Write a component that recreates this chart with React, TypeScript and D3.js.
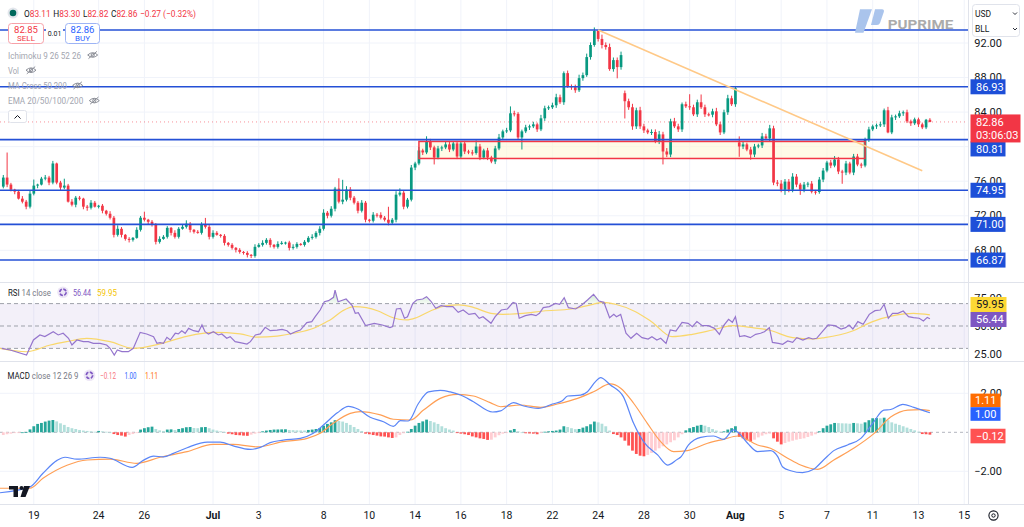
import React from 'react';
import * as d3 from 'd3';

// ---------- DATA ----------
const closes = [
  76.42, 75.61, 75.02, 74.79, 73.98, 73.63, 73.05, 74.56, 75.49, 75.61,
  76.30, 76.42, 75.84, 78.05, 75.84, 75.26, 75.49, 73.63, 73.28, 74.09,
  73.98, 73.05, 72.93, 73.51, 73.05, 73.16, 72.58, 72.23, 71.77, 69.79,
  70.49, 69.79, 69.32, 69.21, 69.44, 70.37, 71.77, 71.54, 71.30, 70.95,
  68.98, 69.32, 69.56, 70.60, 70.02, 69.56, 70.49, 70.72, 71.07, 70.37,
  70.14, 70.02, 70.95, 70.72, 69.56, 70.02, 69.79, 69.67, 68.86, 68.63,
  68.28, 68.05, 67.81, 67.70, 67.47, 67.35, 68.40, 68.63, 68.86, 69.21,
  68.63, 68.40, 68.74, 68.86, 68.90, 68.28, 68.40, 68.74, 68.63, 68.98,
  69.44, 69.56, 70.02, 70.49, 72.35, 72.00, 72.81, 75.14, 73.63, 73.86,
  75.02, 74.09, 73.51, 72.58, 73.51, 71.54, 71.42, 72.12, 72.10, 71.77,
  71.54, 71.19, 71.54, 74.44, 74.67, 73.05, 73.86, 77.58, 78.05, 79.56,
  79.33, 80.60, 79.91, 78.74, 79.79, 79.91, 80.26, 79.67, 80.37, 78.86,
  80.37, 79.44, 79.33, 79.27, 80.02, 78.74, 79.56, 78.74, 78.28, 79.79,
  81.07, 81.77, 81.88, 83.86, 83.80, 81.07, 81.77, 82.23, 82.35, 82.58,
  82.00, 83.28, 84.44, 84.56, 84.79, 85.72, 85.14, 88.51, 87.00, 86.88,
  86.53, 87.93, 88.28, 90.37, 91.77, 93.40, 92.47, 91.77, 91.53, 88.98,
  90.02, 89.21, 90.60, 85.26, 84.56, 82.35, 84.21, 82.35, 81.88, 81.65,
  81.70, 80.60, 81.42, 79.44, 79.09, 82.93, 82.35, 82.00, 84.91, 84.67,
  84.56, 83.74, 85.14, 84.56, 83.74, 83.70, 84.09, 82.58, 81.65, 83.98,
  85.60, 84.91, 86.77, 80.02, 80.26, 79.67, 79.09, 80.02, 80.14, 81.19,
  80.95, 82.12, 75.84, 75.72, 75.02, 75.95, 75.02, 76.53, 75.61, 75.02,
  75.61, 75.72, 74.79, 74.75, 76.19, 77.23, 78.16, 77.81, 78.51, 77.12,
  77.00, 78.05, 77.00, 78.86, 77.93, 77.81, 80.84, 82.00, 82.35, 82.47,
  82.58, 84.21, 81.65, 83.39, 83.51, 83.86, 83.98, 82.93, 82.70, 83.16,
  82.58, 82.23, 83.11, 82.86,
];
// opens that differ from the previous close (session gaps)
const gapOpens: Record<number, number> = { 0: 75.37, 163: 86.19, 193: 80.49 };
const wickUp = [
  0.3, 2.9, 0.2, 0.1, 0.2, 0.3, 0.2, 0.3, 0.7, 0.1,
  0.2, 0.3, 0.2, 0.3, 0.1, 0.2, 0.8, 0.2, 0.3, 0.2,
  0.2, 0.1, 0.2, 0.3, 0.2, 0.1, 0.2, 0.1, 0.3, 0.2,
  0.4, 0.2, 0.1, 0.2, 0.1, 0.3, 0.2, 0.7, 0.1, 0.2,
  0.2, 0.3, 0.2, 0.2, 0.1, 0.3, 0.2, 0.3, 0.4, 0.2,
  0.1, 0.2, 0.3, 0.8, 0.2, 0.3, 0.2, 0.1, 0.2, 0.1,
  0.2, 0.1, 0.2, 0.1, 0.2, 0.1, 0.3, 0.2, 0.3, 0.2,
  0.2, 0.1, 0.3, 0.2, 0.1, 0.2, 0.3, 0.2, 0.1, 0.2,
  0.2, 0.3, 0.2, 0.3, 0.4, 0.2, 0.3, 0.2, 1.2, 2.3,
  0.4, 0.3, 0.2, 0.2, 0.3, 0.2, 0.1, 0.3, 0.2, 0.3,
  0.2, 1.5, 0.2, 0.4, 0.5, 0.3, 0.2, 0.3, 0.2, 0.4,
  0.2, 0.6, 0.3, 0.2, 0.3, 0.2, 0.3, 0.4, 0.2, 0.2,
  0.2, 0.3, 0.2, 0.3, 0.7, 0.3, 0.2, 0.3, 0.2, 0.3,
  0.4, 0.2, 0.3, 0.8, 0.3, 0.2, 0.2, 0.3, 0.2, 0.3,
  0.2, 0.4, 0.3, 0.2, 0.3, 0.4, 0.3, 0.2, 0.3, 0.2,
  0.3, 0.4, 0.3, 0.4, 0.3, 0.4, 0.1, 0.5, 0.3, 0.4,
  0.3, 0.3, 0.4, 0.3, 0.3, 0.4, 0.3, 0.4, 0.3, 0.2,
  0.3, 0.3, 0.4, 0.3, 0.4, 0.3, 0.4, 0.3, 0.2, 0.3,
  1.4, 0.3, 0.3, 0.9, 0.3, 0.2, 0.3, 0.4, 0.3, 0.3,
  0.4, 0.3, 0.2, 0.7, 0.3, 0.2, 0.3, 0.3, 0.2, 0.4,
  0.3, 0.4, 0.3, 0.3, 0.4, 0.3, 0.3, 0.4, 0.3, 0.2,
  0.3, 0.2, 0.3, 0.2, 0.3, 0.3, 0.2, 0.3, 0.4, 0.3,
  0.2, 0.3, 0.2, 0.3, 0.3, 0.2, 0.2, 0.3, 0.2, 0.2,
  0.3, 0.2, 0.4, 0.3, 0.2, 0.3, 0.2, 0.3, 0.2, 0.2,
  0.2, 0.2, 0.1, 0.19,
];
const wickDown = [
  0.2, 0.3, 0.2, 0.3, 0.1, 0.2, 0.3, 0.2, 0.2, 0.3,
  0.1, 0.2, 0.3, 0.2, 0.2, 0.3, 0.2, 0.1, 0.2, 0.3,
  0.2, 0.3, 0.35, 0.2, 0.1, 0.2, 0.3, 0.2, 0.2, 0.3,
  0.2, 0.3, 0.2, 0.3, 0.2, 0.1, 0.2, 0.2, 0.3, 0.2,
  0.3, 0.2, 0.1, 0.2, 0.3, 0.2, 0.2, 0.1, 0.2, 0.3,
  0.2, 0.1, 0.2, 0.2, 0.3, 0.2, 0.1, 0.2, 0.3, 0.2,
  0.2, 0.3, 0.2, 0.2, 0.3, 0.25, 0.2, 0.1, 0.2, 0.2,
  0.3, 0.2, 0.2, 0.1, 0.2, 0.3, 0.2, 0.2, 0.1, 0.2,
  0.1, 0.2, 0.2, 0.3, 0.2, 0.3, 0.2, 0.3, 0.2, 0.3,
  0.2, 0.3, 0.2, 0.3, 0.2, 0.3, 0.2, 0.2, 0.3, 0.2,
  0.2, 0.3, 0.2, 0.3, 0.2, 0.3, 0.2, 0.2, 0.3, 0.2,
  0.3, 0.2, 0.3, 0.8, 0.2, 0.3, 0.2, 0.3, 0.2, 0.3,
  0.2, 0.3, 0.2, 0.3, 0.2, 0.3, 0.2, 0.3, 0.2, 0.3,
  0.2, 0.3, 0.2, 0.2, 0.3, 0.2, 1.4, 0.2, 0.3, 0.2,
  0.3, 0.2, 0.3, 0.2, 0.2, 0.3, 0.2, 0.3, 0.2, 0.3,
  0.3, 0.2, 0.3, 0.2, 0.3, 0.2, 0.3, 0.4, 0.3, 0.2,
  0.3, 1.3, 0.3, 2.0, 0.3, 0.4, 0.3, 0.3, 0.3, 0.2,
  0.3, 0.2, 0.3, 1.5, 0.3, 0.3, 0.2, 0.3, 0.3, 0.2,
  0.3, 0.2, 0.3, 0.2, 0.3, 0.2, 0.3, 0.2, 0.3, 0.2,
  0.3, 0.2, 0.3, 1.2, 0.3, 0.2, 0.6, 0.3, 0.2, 0.3,
  0.2, 0.3, 0.3, 0.3, 0.3, 0.6, 0.3, 0.3, 0.3, 0.6,
  0.3, 0.3, 0.2, 0.3, 0.2, 0.3, 0.2, 0.3, 0.2, 0.3,
  1.3, 0.3, 0.2, 0.3, 0.2, 0.3, 0.2, 0.3, 0.2, 0.3,
  0.2, 0.3, 0.1, 0.2, 0.3, 0.2, 0.3, 0.2, 0.3, 0.2,
  0.3, 0.2, 0.2, 0.04,
];

const levels = [93.5, 86.93, 80.81, 74.95, 71.0, 66.87];
const labeledLevels = [86.93, 80.81, 74.95, 71.0, 66.87];
const priceTicks = [92, 88, 84, 80, 76, 72, 68];
const zoneIdx = [109, 226];
const zonePrice = [78.63, 80.6];
const trendLine: [number, number][] = [[156, 93.5], [241, 77.2]];

const dateLabels = ['19', '24', '26', 'Jul', '3', '8', '10', '14', '16', '18', '22', '24', '28', '30', 'Aug', '5', '7', '11', '13', '15'];
const dateIdx = [8, 25, 37, 55, 67, 84, 96, 108, 120, 132, 144, 156, 168, 180, 192, 204, 216, 228, 240, 252];

const headerOHLC = { o: '83.11', h: '83.30', l: '82.82', c: '82.86', chg: '−0.27 (−0.32%)' };
const bidAsk = { sell: '82.85', buy: '82.86', spread: '0.01' };
const countdown = '03:06:03';

const rsiTicks = [75, 50, 25];
const rsiBands = [70, 50, 30];
const rsiPts: [number, number][] = [[-0.4,30.1],[1.8,28.6],[6.1,24.1],[7.9,37.5],[9.6,42.0],[10.9,40.5],[13.1,44.9],[14.4,42.0],[15.7,43.5],[17.1,39.0],[18.0,33.0],[19.3,37.5],[21.0,36.0],[22.3,36.0],[23.6,34.5],[25.4,34.5],[27.1,33.0],[28.0,30.1],[29.1,24.1],[29.9,28.6],[31.1,27.1],[32.8,27.1],[34.1,30.1],[35.9,44.3],[37.6,42.9],[39.4,40.5],[40.3,34.5],[41.1,35.1],[42.0,34.5],[42.9,39.9],[43.8,37.5],[45.1,43.5],[45.9,42.9],[46.8,45.8],[47.7,43.5],[48.6,47.9],[49.9,45.8],[51.2,44.9],[52.1,50.9],[52.9,44.9],[53.8,42.9],[55.1,44.9],[56.4,42.0],[57.3,42.9],[58.6,39.0],[59.5,40.5],[60.8,36.0],[62.1,35.1],[63.9,33.9],[64.8,36.0],[66.1,42.0],[67.4,42.9],[68.7,48.8],[70.0,45.8],[71.8,46.4],[73.1,47.0],[74.4,45.8],[75.3,42.9],[76.6,44.9],[77.9,46.4],[79.6,53.0],[80.9,53.9],[81.8,58.3],[83.1,64.3],[84.2,71.7],[85.3,72.6],[86.6,75.6],[87.0,82.1],[87.8,71.7],[89.9,74.1],[91.5,68.2],[92.3,61.3],[93.1,61.9],[95.0,50.3],[97.3,52.4],[99.4,50.9],[101.4,48.5],[102.1,49.4],[103.1,65.2],[104.2,65.8],[105.2,56.9],[106.0,58.3],[107.4,70.2],[108.4,73.2],[110.0,74.1],[111.0,76.2],[112.1,72.3],[113.4,65.8],[114.8,68.2],[116.3,67.3],[117.9,67.3],[119.3,62.2],[120.6,64.3],[122.1,60.4],[123.7,61.3],[124.8,56.9],[125.8,58.3],[127.9,52.4],[129.0,58.3],[130.6,64.3],[132.2,65.2],[133.7,71.1],[134.5,70.2],[135.3,56.9],[136.9,59.2],[138.5,60.4],[139.7,59.2],[140.6,61.3],[141.6,66.4],[143.2,67.3],[144.8,70.2],[145.9,69.4],[147.1,75.3],[148.2,66.4],[150.1,65.2],[151.7,68.8],[153.2,73.2],[154.8,78.3],[156.2,72.3],[157.5,71.1],[159.0,57.4],[160.1,60.4],[160.8,58.3],[161.9,60.4],[163.3,43.5],[164.6,39.0],[166.1,43.5],[167.5,39.6],[169.1,38.4],[170.1,40.5],[171.4,37.5],[172.4,39.0],[173.8,34.5],[174.9,46.4],[176.4,45.5],[178.0,53.3],[179.6,52.4],[180.7,49.4],[181.9,53.9],[183.3,50.3],[184.9,50.3],[186.5,47.9],[187.8,42.6],[188.9,50.3],[190.2,56.0],[191.2,53.3],[192.0,58.3],[193.1,40.5],[194.4,41.4],[195.9,39.6],[197.3,42.6],[198.6,43.5],[199.6,44.9],[200.9,48.5],[201.7,35.4],[203.3,34.5],[204.4,33.6],[205.7,36.6],[207.0,35.4],[208.1,39.6],[209.7,37.5],[211.2,39.6],[212.3,38.4],[213.3,39.0],[214.9,45.5],[216.3,50.9],[218.1,50.3],[219.7,47.3],[220.9,48.5],[221.8,50.9],[222.8,47.3],[224.1,53.9],[225.5,51.5],[227.1,60.4],[228.6,63.7],[230.0,64.3],[231.0,69.4],[232.1,56.9],[233.2,61.3],[234.6,61.3],[236.0,63.4],[237.4,58.3],[238.7,57.4],[240.2,56.9],[241.3,54.5],[242.3,57.7],[243.0,56.44]];
const rsiMaPts: [number, number][] = [[-0.9,30],[6.1,27],[12.3,33],[16.6,36],[21.9,39],[28.0,36],[34.1,30],[41.1,34],[48.1,40.8],[55.1,44.3],[62.1,43],[66.5,40],[71.8,41],[76.1,43.5],[81.4,48],[84.9,54],[85.7,55.4],[88.9,63.4],[92.0,67.3],[95.2,66.4],[98.3,63.4],[101.5,58.3],[105.7,55.4],[108.3,57.4],[112.0,63.4],[116.3,68.2],[119.5,68.8],[122.6,67.3],[127.9,61.3],[131.1,60.4],[136.3,61.3],[141.6,63.4],[149.0,65.2],[153.2,68.2],[157.4,71.1],[160.5,69.4],[165.8,62.8],[170.0,53.9],[175.4,40.5],[180.7,42.6],[186.0,46.4],[191.2,50.3],[196.5,48.5],[200.7,46.4],[207.0,39.6],[212.3,38.4],[215.4,39.6],[222.7,45.5],[228.0,53.9],[233.4,59.2],[238.7,61.3],[243.0,59.95]];

const macdTicks = [2, -2];
const macdPts: [number, number][] = [[-0.9,-3.1],[7,-2.8],[10.4,-2.1],[14.1,-1.44],[16.2,-1.28],[19.3,-1.38],[25.4,-1.28],[28,-1.33],[33.8,-1.8],[36.7,-1.44],[39.4,-1.22],[42,-1.26],[44.6,-1.08],[48.2,-0.79],[53.5,-0.5],[56.9,-0.5],[60.3,-0.7],[64.8,-0.88],[67.4,-0.77],[70,-0.53],[73.4,-0.4],[77.9,-0.31],[81.3,-0.05],[84.4,0.45],[87.6,1.0],[90.5,1.33],[93.1,1.18],[96.2,0.77],[99.7,0.54],[102.3,0.3],[104.1,0.6],[106.2,0.58],[108.9,1.49],[111.5,2.07],[114.6,2.15],[117.2,2.07],[119.9,1.91],[123.3,1.57],[128.3,1.04],[130.4,1.1],[133.8,1.52],[136.5,1.35],[140.3,1.23],[144,1.45],[146.6,1.62],[148,1.86],[151.4,1.91],[153.2,2.08],[155.3,2.6],[156.6,2.8],[159.2,2.43],[162.6,1.83],[165.3,0.46],[167.9,-0.48],[171.6,-1.16],[174.2,-1.68],[176.8,-1.38],[177.6,-1.28],[179.7,-0.65],[182.9,-0.26],[186.3,-0.19],[188.9,-0.36],[191.5,0.12],[192.8,-0.02],[195.2,-0.56],[197.8,-0.99],[201.2,-0.94],[203.1,-1.25],[204.4,-1.78],[206.5,-1.97],[209.6,-2.07],[212.5,-1.9],[215.1,-1.42],[217.8,-0.94],[221.4,-0.65],[224.9,-0.31],[228,0.46],[230.9,1.14],[232.7,1.17],[235.9,1.43],[238.8,1.28],[243,1.0]];
const signalPts: [number, number][] = [[-0.9,-2.87],[7,-2.87],[10.4,-2.36],[16.7,-1.69],[22,-1.42],[28,-1.38],[35,-1.59],[41.1,-1.28],[48.2,-0.99],[55,-0.62],[60.3,-0.62],[66.6,-0.75],[73.4,-0.48],[79.7,-0.31],[83.1,-0.05],[86.5,0.46],[91,0.97],[93.6,1.06],[98.9,0.89],[102.3,0.67],[106.8,0.63],[110.2,1.14],[114.6,1.74],[119.1,1.95],[123.3,1.86],[127.7,1.52],[130.4,1.31],[135.6,1.4],[140.9,1.28],[145.3,1.45],[150.6,1.74],[154.8,2.08],[159.2,2.48],[161.9,2.26],[165.3,1.49],[168.9,0.46],[172.4,-0.48],[175.8,-0.99],[179.4,-0.94],[184.7,-0.56],[188.9,-0.36],[192.6,-0.19],[197.8,-0.65],[201.2,-0.82],[205.7,-1.33],[209.1,-1.68],[213.6,-1.9],[217.8,-1.42],[223,-0.82],[228.3,-0.07],[232.7,0.78],[237.2,1.14],[240.6,1.16],[243,1.11]];
const hist = [
  -0.14,-0.10,-0.07,-0.03,-0.02,0,0.02,0.15,0.31,0.43,
  0.48,0.55,0.60,0.63,0.56,0.46,0.38,0.27,0.21,0.17,
  0.12,0.09,0.07,0.05,0.03,0.07,0.05,0.03,0.00,-0.09,
  -0.14,-0.17,-0.22,-0.14,-0.09,-0.03,0.14,0.21,0.26,0.29,
  0.17,0.10,0.07,0.14,0.15,0.12,0.17,0.21,0.26,0.27,
  0.22,0.21,0.26,0.27,0.21,0.14,0.09,0.05,0.02,-0.07,
  -0.10,-0.14,-0.15,-0.17,-0.18,-0.12,-0.07,-0.02,0.05,0.09,
  0.12,0.14,0.145,0.15,0.155,0.12,0.11,0.10,0.095,0.09,
  0.12,0.14,0.17,0.22,0.34,0.43,0.51,0.62,0.58,0.55,
  0.48,0.38,0.27,0.17,0.07,-0.07,-0.10,-0.14,-0.17,-0.21,
  -0.22,-0.26,-0.29,-0.26,-0.14,-0.05,0.03,0.17,0.34,0.48,
  0.56,0.65,0.58,0.51,0.43,0.31,0.21,0.14,0.09,-0.03,
  -0.07,-0.10,-0.14,-0.21,-0.26,-0.31,-0.34,-0.39,-0.38,-0.26,
  -0.15,-0.07,-0.02,0.10,0.17,0.05,0.00,-0.05,-0.06,-0.07,
  -0.10,-0.03,0.03,0.05,0.07,0.09,0.14,0.31,0.27,0.21,
  0.16,0.17,0.24,0.31,0.41,0.55,0.51,0.44,0.31,0.09,
  -0.09,-0.14,-0.26,-0.43,-0.68,-0.94,-1.11,-1.20,-1.23,-1.16,
  -1.06,-0.94,-0.82,-0.72,-0.62,-0.51,-0.41,-0.26,-0.10,0.10,
  0.21,0.27,0.34,0.38,0.34,0.27,0.17,0.09,0.03,0.05,
  0.14,0.21,0.31,-0.24,-0.31,-0.41,-0.48,-0.38,-0.26,-0.17,
  -0.10,-0.07,-0.31,-0.48,-0.62,-0.55,-0.48,-0.43,-0.38,-0.34,
  -0.31,-0.24,-0.17,-0.10,0.05,0.21,0.34,0.41,0.48,0.47,
  0.46,0.455,0.44,0.48,0.46,0.44,0.51,0.62,0.72,0.73,
  0.72,0.75,0.62,0.51,0.44,0.38,0.31,0.24,0.17,0.10,
  0.03,-0.09,-0.10,-0.12,
];

const legendItems = ['Ichimoku 9 26 52 26', 'Vol', 'MA Cross 50 200', 'EMA 20/50/100/200'];

// ---------- STYLE ----------
const FONT = "Roboto, 'Noto Sans', 'DejaVu Sans', sans-serif";
const UP = '#089981';
const DOWN = '#f23645';
const BLUE = '#2450d6';
const BLUE_BOX = '#1d4fd8';
const GRID = '#f0f3fa';
const TXT = '#131722';
const AXIS_X = 968;
// text widths measured on the reference (layout)
const legendWidths = [73, 11, 58.7, 75.3];
const legendEyeX = [92.7, 31, 77.7, 94.3];

const fmt = (v: number) => v.toFixed(2).replace('-', '−');

function EyeOff({ x, y }: { x: number; y: number }) {
  return (
    <g transform={`translate(${x},${y})`} stroke="#8a8d96" fill="none" strokeWidth={1}>
      <path d="M-5,0 Q0,-4.6 5,0 Q0,4.6 -5,0 Z" />
      <circle r={1.6} />
      <line x1={-4.2} y1={3.6} x2={4.2} y2={-3.6} />
    </g>
  );
}

function LoadIcon({ x, y }: { x: number; y: number }) {
  return (
    <g transform={`translate(${x},${y})`}>
      <circle r={5.8} fill="#ede7f6" />
      <circle r={3.2} fill="none" stroke="#7e57c2" strokeWidth={1.7} strokeDasharray="3.5 1.5" />
    </g>
  );
}

export default function App() {
  const W = 1024, H = 527;
  const n = closes.length;
  const x = d3.scaleLinear().domain([0, n - 1]).range([3.3, 929.9]);
  const yP = d3.scaleLinear().domain([68, 92]).range([250.3, 43]);
  const yR = d3.scaleLinear().domain([25, 75]).range([354, 298]);
  const yM = d3.scaleLinear().domain([-2, 2]).range([471.3, 393.3]);

  const candles = closes.map((c, i) => {
    const o = gapOpens[i] !== undefined ? gapOpens[i] : i > 0 ? closes[i - 1] : c;
    const hi = Math.max(o, c) + wickUp[i];
    const lo = Math.min(o, c) - wickDown[i];
    return { i, o, c, hi, lo };
  });
  const last = closes[n - 1];

  const rsiLine = d3.line<[number, number]>().x(d => x(d[0])).y(d => yR(d[1]));
  const maLine = d3.line<[number, number]>().x(d => x(d[0])).y(d => yR(d[1])).curve(d3.curveMonotoneX);
  const obArea = d3.area<[number, number]>().x(d => x(d[0])).y0(yR(70)).y1(d => yR(Math.max(70, d[1])));
  const mLine = d3.line<[number, number]>().x(d => x(d[0])).y(d => yM(d[1])).curve(d3.curveMonotoneX);

  const yLast = yP(last);
  const curTop = yLast - 7.5;
  const curBottom = curTop + 28;

  const levelLabelY = (v: number) => {
    const y = yP(v);
    if (y > curTop - 8 && y < curBottom + 7.5) return curBottom + 6.5;
    return y;
  };
  const labelCenters = labeledLevels.map(levelLabelY);
  // tick labels fully hidden behind a level label are not drawn (as in the reference)
  const visibleTicks = priceTicks.filter(t => labelCenters.every(c => Math.abs(yP(t) - c) > 4));

  const rsiLast = rsiPts[rsiPts.length - 1][1];
  const maLast = rsiMaPts[rsiMaPts.length - 1][1];
  const macdLast = macdPts[macdPts.length - 1][1];
  const sigLast = signalPts[signalPts.length - 1][1];
  const histLast = hist[hist.length - 1];

  const rsiBoxY = yR(rsiLast) + 0.7;
  const maBoxY = rsiBoxY - 15;
  const macdBoxY = yM(macdLast) + 1.2;
  const sigBoxY = macdBoxY - 13.6;
  const histBoxY = yM(histLast) + 1.4;

  const histColor = (i: number) => {
    const h = hist[i];
    const p = i > 0 ? hist[i - 1] : h;
    if (h >= 0) return h > p ? '#26a69a' : '#b2dfdb';
    return h < p ? '#ff5252' : '#ffcdd2';
  };

  const LS = 'spacingAndGlyphs';

  return (
    <svg width={W} height={H} viewBox={`0 0 ${W} ${H}`}
      style={{ position: 'absolute', left: 0, top: 0, background: '#fff', display: 'block' }}
      fontFamily={FONT}>
      <defs>
        <clipPath id="cMain"><rect x={0} y={0} width={AXIS_X} height={282} /></clipPath>
        <clipPath id="cRsi"><rect x={0} y={283} width={AXIS_X} height={78} /></clipPath>
        <clipPath id="cMacd"><rect x={0} y={362} width={AXIS_X} height={142} /></clipPath>
        <linearGradient id="obGrad" x1="0" y1="0" x2="0" y2="1">
          <stop offset="0" stopColor="#4caf50" stopOpacity={0.35} />
          <stop offset="1" stopColor="#4caf50" stopOpacity={0.05} />
        </linearGradient>
      </defs>
      <rect x={0} y={0} width={W} height={H} fill="#fff" />

      {/* vertical grid */}
      {dateIdx.map((d, k) => (
        x(d) < AXIS_X ? <line key={'vg' + k} x1={x(d)} x2={x(d)} y1={0} y2={504} stroke={GRID} strokeWidth={1} /> : null
      ))}
      {priceTicks.map(t => (
        <line key={'hg' + t} x1={0} x2={AXIS_X} y1={yP(t)} y2={yP(t)} stroke={GRID} strokeWidth={1} />
      ))}
      {macdTicks.map(t => (
        <line key={'mg' + t} x1={0} x2={AXIS_X} y1={yM(t)} y2={yM(t)} stroke={GRID} strokeWidth={1} />
      ))}

      {/* panel separators */}
      <line x1={0} x2={W} y1={282.5} y2={282.5} stroke="#e0e3eb" />
      <line x1={0} x2={W} y1={361.5} y2={361.5} stroke="#e0e3eb" />
      <line x1={0} x2={W} y1={504.5} y2={504.5} stroke="#e0e3eb" />
      <line x1={AXIS_X + 0.5} x2={AXIS_X + 0.5} y1={0} y2={504} stroke="#e0e3eb" />

      {/* ---------- MAIN PANEL ---------- */}
      <g clipPath="url(#cMain)">
        <rect x={x(zoneIdx[0])} y={yP(zonePrice[1])} width={x(zoneIdx[1]) - x(zoneIdx[0])}
          height={yP(zonePrice[0]) - yP(zonePrice[1])} fill="#fff6d6" fillOpacity={0.6} />
        <line x1={0} x2={AXIS_X} y1={yLast} y2={yLast} stroke={DOWN} strokeOpacity={0.55} strokeDasharray="1 3" />
        {candles.map(d => {
          const col = d.c >= d.o ? UP : DOWN;
          const cx = x(d.i);
          const yTop = yP(Math.max(d.o, d.c));
          const yBot = yP(Math.min(d.o, d.c));
          return (
            <g key={'c' + d.i}>
              <line x1={cx} x2={cx} y1={yP(d.hi)} y2={yP(d.lo)} stroke={col} strokeWidth={1} />
              <rect x={cx - 1.35} y={yTop} width={2.7} height={Math.max(1, yBot - yTop)} fill={col} />
            </g>
          );
        })}
        <rect x={x(zoneIdx[0])} y={yP(zonePrice[1])} width={x(zoneIdx[1]) - x(zoneIdx[0])}
          height={yP(zonePrice[0]) - yP(zonePrice[1])} fill="none" stroke="#f23645" strokeWidth={1.5} />
        {levels.map(v => (
          <line key={'lv' + v} x1={0} x2={AXIS_X} y1={yP(v)} y2={yP(v)} stroke={BLUE} strokeWidth={1.6} />
        ))}
        <line x1={x(trendLine[0][0])} y1={yP(trendLine[0][1])} x2={x(trendLine[1][0])} y2={yP(trendLine[1][1])}
          stroke="#ffc987" strokeWidth={1.6} />
      </g>

      {/* logo */}
      <g>
        <path d="M860,9.3 L872,9.3 L863.5,32.7 L855,32.7 Z" fill="#aac4ec" />
        <path d="M875,9.3 L882,9.3 Q884.5,9.3 883.8,12 L880,23 Q879.2,25 877,25 L871,25 Z" fill="#aac4ec" />
        <text x={887.7} y={29.3} fontSize={12} fontWeight={700} fill="#ababab" textLength={65.6} lengthAdjust={LS}>PUPRIME</text>
      </g>

      {/* header */}
      <circle cx={13} cy={13} r={5.5} fill="#e3e6ec" />
      <circle cx={13} cy={13} r={3.3} fill="#00695c" />
      <text x={24} y={16.5} fontSize={9.5} textLength={172} lengthAdjust={LS}>
        <tspan fill={TXT}>O</tspan><tspan fill={DOWN}>{headerOHLC.o}</tspan>
        <tspan fill={TXT} dx={3}>H</tspan><tspan fill={DOWN}>{headerOHLC.h}</tspan>
        <tspan fill={TXT} dx={3}>L</tspan><tspan fill={DOWN}>{headerOHLC.l}</tspan>
        <tspan fill={TXT} dx={3}>C</tspan><tspan fill={DOWN}>{headerOHLC.c}</tspan>
        <tspan fill={DOWN} dx={3}>{headerOHLC.chg}</tspan>
      </text>
      {/* sell / buy */}
      <rect x={8.5} y={23.5} width={35} height={20} rx={3} fill="#fff" stroke="#f7a1a8" />
      <text x={26} y={32.5} fontSize={9.5} fill={DOWN} textAnchor="middle">{bidAsk.sell}</text>
      <text x={26} y={41.3} fontSize={8} fill={DOWN} textAnchor="middle">SELL</text>
      <rect x={46} y={28} width={17} height={10} fill="#fff" />
      <text x={54.5} y={35.5} fontSize={7} fill={TXT} textAnchor="middle">{bidAsk.spread}</text>
      <rect x={65.5} y={23.5} width={34} height={20} rx={3} fill="#fff" stroke="#9db4f5" />
      <text x={82.5} y={32.5} fontSize={9.5} fill="#2962ff" textAnchor="middle">{bidAsk.buy}</text>
      <text x={82.5} y={41.3} fontSize={8} fill="#2962ff" textAnchor="middle">BUY</text>

      {/* indicator legends */}
      {legendItems.map((t, k) => {
        const y = 58.5 + k * 15.2;
        return (
          <g key={'lg' + k}>
            <text x={8} y={y} fontSize={9} fill="#a3a6af" textLength={legendWidths[k]} lengthAdjust={LS}>{t}</text>
            <EyeOff x={legendEyeX[k]} y={y - 3.5} />
          </g>
        );
      })}
      <rect x={8.5} y={110.5} width={18} height={12} rx={2} fill="#fff" stroke="#e0e3eb" />
      <path d="M14.5,118.5 L17.5,115.5 L20.5,118.5" fill="none" stroke={TXT} strokeWidth={1} />

      {/* ---------- RSI PANEL ---------- */}
      <rect x={0} y={yR(70)} width={AXIS_X} height={yR(30) - yR(70)} fill="#7e57c2" fillOpacity={0.09} />
      {rsiBands.map(b => (
        <line key={'rb' + b} x1={0} x2={AXIS_X} y1={yR(b)} y2={yR(b)} stroke="#9598a1" strokeDasharray="4 3" strokeOpacity={0.9} />
      ))}
      <g clipPath="url(#cRsi)">
        <path d={obArea(rsiPts) || ''} fill="url(#obGrad)" />
        <path d={maLine(rsiMaPts) || ''} fill="none" stroke="#f9d76b" strokeWidth={1.2} />
        <path d={rsiLine(rsiPts) || ''} fill="none" stroke="#9575cd" strokeWidth={1.2} />
      </g>
      <text x={8} y={295.5} fontSize={9} textLength={43} lengthAdjust={LS}>
        <tspan fill={TXT}>RSI</tspan><tspan fill="#787b86"> 14 close</tspan>
      </text>
      <LoadIcon x={63} y={292.3} />
      <text x={73} y={295.5} fontSize={9} fill="#7e57c2" textLength={18} lengthAdjust={LS}>{fmt(rsiLast)}</text>
      <text x={97} y={295.5} fontSize={9} fill="#f5c400" textLength={20} lengthAdjust={LS}>{fmt(maLast)}</text>

      {/* ---------- MACD PANEL ---------- */}
      <line x1={0} x2={AXIS_X} y1={yM(0)} y2={yM(0)} stroke="#b2b5be" strokeDasharray="3 3" />
      <g clipPath="url(#cMacd)">
        {hist.map((h, i) => (
          <rect key={'h' + i} x={x(i) - 1.4} width={2.8}
            y={Math.min(yM(0), yM(h))} height={Math.max(0.8, Math.abs(yM(h) - yM(0)))} fill={histColor(i)} />
        ))}
        <path d={mLine(signalPts) || ''} fill="none" stroke="#ff9f55" strokeWidth={1.2} />
        <path d={mLine(macdPts) || ''} fill="none" stroke="#5b86f7" strokeWidth={1.2} />
      </g>
      <text x={7.5} y={378.5} fontSize={9} textLength={71} lengthAdjust={LS}>
        <tspan fill={TXT}>MACD</tspan><tspan fill="#787b86"> close 12 26 9</tspan>
      </text>
      <LoadIcon x={89.5} y={375.3} />
      <text x={100} y={378.5} fontSize={9} fill="#f7777f" textLength={16} lengthAdjust={LS}>{fmt(histLast)}</text>
      <text x={124.5} y={378.5} fontSize={9} fill="#2962ff" textLength={12} lengthAdjust={LS}>{fmt(macdLast)}</text>
      <text x={145} y={378.5} fontSize={9} fill="#ff6d00" textLength={13} lengthAdjust={LS}>{fmt(sigLast)}</text>

      {/* TV logo */}
      <g fill="#131722">
        <rect x={9} y={486} width={9} height={3.5} />
        <rect x={13.5} y={486} width={4.5} height={11} />
        <circle cx={21.5} cy={488} r={2} />
        <path d="M24,486 L30,486 L25.5,497 L20.5,497 Z" />
      </g>

      {/* ---------- RIGHT AXIS ---------- */}
      {visibleTicks.map(t => (
        <text key={'pt' + t} x={1002} y={yP(t)} fontSize={11} fill={TXT} textAnchor="end" dominantBaseline="central">{fmt(t)}</text>
      ))}
      {rsiTicks.map(t => (
        <text key={'rt' + t} x={1002} y={yR(t)} fontSize={11} fill={TXT} textAnchor="end" dominantBaseline="central">{fmt(t)}</text>
      ))}
      {macdTicks.map(t => (
        <text key={'mt' + t} x={1002} y={yM(t)} fontSize={11} fill={TXT} textAnchor="end" dominantBaseline="central">{fmt(t)}</text>
      ))}

      {labeledLevels.map((v, k) => {
        const cy = labelCenters[k];
        return (
          <g key={'ll' + v}>
            <rect x={970.5} y={cy - 7.5} width={35} height={15} fill={BLUE_BOX} />
            <text x={976} y={cy + 0.5} fontSize={11} fill="#fff" dominantBaseline="central">{fmt(v)}</text>
          </g>
        );
      })}
      <rect x={970.5} y={curTop} width={50} height={28} fill={DOWN} />
      <text x={976} y={yLast + 0.5} fontSize={11} fill="#fff" dominantBaseline="central">{fmt(last)}</text>
      <text x={976} y={yLast + 13.5} fontSize={11} fill="#fff" dominantBaseline="central">{countdown}</text>

      <rect x={970.5} y={maBoxY - 7.5} width={36} height={15} fill="#fdd835" />
      <text x={976} y={maBoxY + 0.5} fontSize={11} fill={TXT} dominantBaseline="central">{fmt(maLast)}</text>
      <rect x={970.5} y={rsiBoxY - 7.5} width={36} height={15} fill="#7e57c2" />
      <text x={976} y={rsiBoxY + 0.5} fontSize={11} fill="#fff" dominantBaseline="central">{fmt(rsiLast)}</text>

      <rect x={970.5} y={sigBoxY - 6.8} width={30} height={13.6} fill="#ff6d00" />
      <text x={975} y={sigBoxY + 0.5} fontSize={11} fill="#fff" dominantBaseline="central">{fmt(sigLast)}</text>
      <rect x={970.5} y={macdBoxY - 6.8} width={30} height={13.6} fill="#2962ff" />
      <text x={975} y={macdBoxY + 0.5} fontSize={11} fill="#fff" dominantBaseline="central">{fmt(macdLast)}</text>
      <rect x={970.5} y={histBoxY - 7.3} width={35} height={14.6} fill="#ff5252" />
      <text x={976} y={histBoxY + 0.5} fontSize={11} fill="#fff" dominantBaseline="central">{fmt(histLast)}</text>

      {/* currency box */}
      <rect x={972.5} y={4.5} width={47} height={32} rx={3} fill="#fff" stroke="#e0e3eb" />
      <text x={975} y={16.5} fontSize={8.5} fill={TXT}>USD</text>
      <text x={975} y={32} fontSize={8.5} fill={TXT}>BLL</text>
      <path d="M1013,12.5 L1015,14.5 L1017,12.5" fill="none" stroke={TXT} strokeWidth={0.9} />
      <path d="M1013,28 L1015,30 L1017,28" fill="none" stroke={TXT} strokeWidth={0.9} />

      {/* ---------- X AXIS ---------- */}
      {dateIdx.map((d, k) => (
        <text key={'dl' + k} x={x(d)} y={519} fontSize={10.5} fill={TXT} textAnchor="middle"
          fontWeight={dateLabels[k] === 'Jul' || dateLabels[k] === 'Aug' ? 700 : 400}>{dateLabels[k]}</text>
      ))}
      <circle cx={993.5} cy={515.5} r={4.6} fill="none" stroke={TXT} strokeWidth={1.1} />
      <circle cx={993.5} cy={515.5} r={1.7} fill="none" stroke={TXT} strokeWidth={1} />
    </svg>
  );
}
